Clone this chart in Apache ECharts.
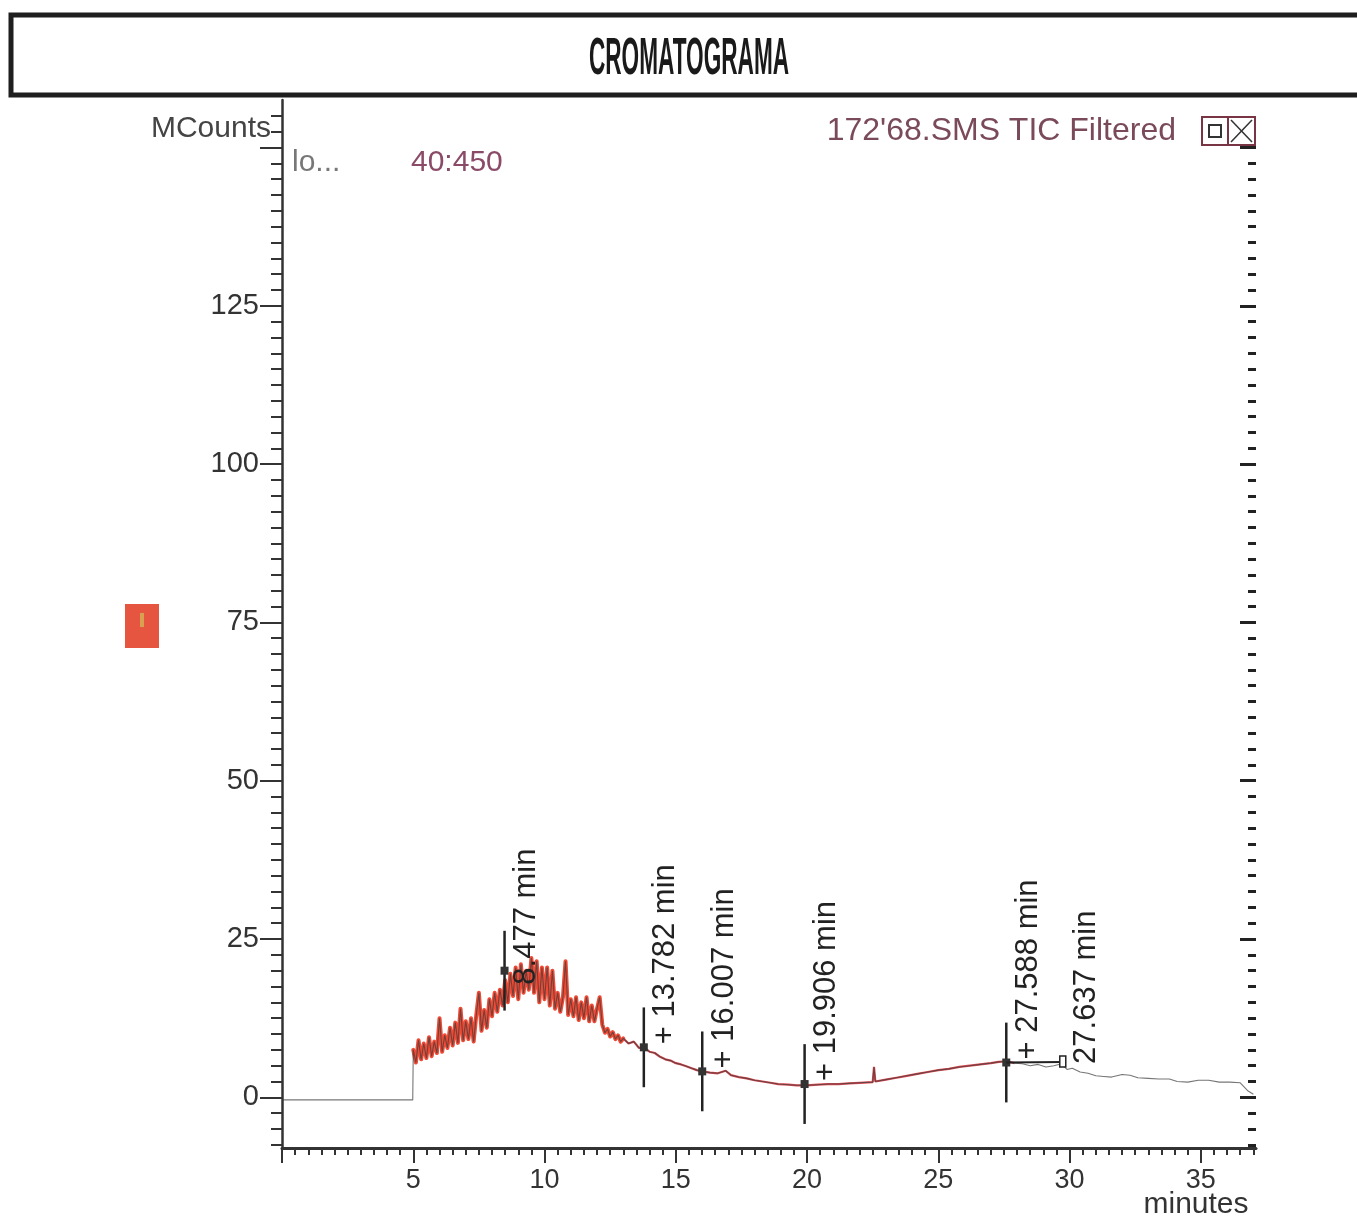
<!DOCTYPE html>
<html>
<head>
<meta charset="utf-8">
<script src="https://cdn.jsdelivr.net/npm/echarts@6/dist/echarts.min.js"></script>
<style>
html,body{margin:0;padding:0;background:#fff;}
#chart{width:1357px;height:1218px;}
</style>
</head>
<body>
<div id="chart"></div>
<script>
// ---------- DATA ----------
const traceTime = [0, 4.98,
  5.0, 5.1, 5.2, 5.3, 5.4, 5.5, 5.6, 5.7, 5.8, 5.9,
  6.0, 6.1, 6.2, 6.3, 6.4, 6.5, 6.6, 6.7, 6.8, 6.9,
  7.0, 7.1, 7.2, 7.3, 7.4, 7.5, 7.6, 7.7, 7.8, 7.9,
  8.0, 8.1, 8.2, 8.3, 8.4, 8.5, 8.6, 8.7, 8.8, 8.9,
  9.0, 9.1, 9.2, 9.3, 9.4, 9.5, 9.6, 9.7, 9.8, 9.9,
  10.0, 10.1, 10.2, 10.3, 10.4, 10.5, 10.6, 10.7, 10.8, 10.9,
  11.0, 11.1, 11.2, 11.3, 11.4, 11.5, 11.6, 11.7, 11.8, 11.9,
  12.0, 12.1, 12.2, 12.3, 12.4, 12.5, 12.6, 12.7, 12.8, 12.9,
  13.0, 13.2, 13.4, 13.6, 13.8, 14.0, 14.2, 14.4, 14.6, 14.8,
  15.0, 15.2, 15.4, 15.6, 15.8, 16.0, 16.3, 16.6, 16.9, 17.1,
  17.4, 17.7, 18.0, 18.3, 18.6, 18.9, 19.3, 19.6, 20.0, 20.4,
  20.8, 21.2, 21.6, 22.0, 22.5, 22.55, 22.6, 23.0, 23.4, 23.8,
  24.2, 24.6, 25.0, 25.4, 25.8, 26.2, 26.6, 27.0, 27.3, 27.6,
  27.9, 28.2, 28.5, 28.8, 29.1, 29.4, 29.7, 29.9, 30.1, 30.4,
  30.7, 31.0, 31.3, 31.6, 32.0, 32.3, 32.6, 33.0, 33.4, 33.8,
  34.1, 34.5, 34.9, 35.3, 35.7, 36.1, 36.5, 36.8, 37.0];

const traceCounts = [-0.4, -0.4,
  7.5, 5.5, 9.0, 6.0, 8.5, 6.2, 9.5, 6.5, 8.8, 7.0,
  12.5, 7.2, 9.8, 7.8, 11.0, 8.2, 11.8, 8.6, 14.0, 9.0,
  12.0, 9.2, 12.5, 8.8, 13.0, 16.5, 10.5, 13.8, 11.0, 15.5,
  12.8, 16.5, 13.5, 17.0, 14.5, 18.5, 15.0, 19.5, 16.0, 20.5,
  15.5, 21.0, 16.5, 20.0, 17.0, 22.0, 16.5, 21.5, 15.0, 20.5,
  15.5, 20.5, 14.5, 20.0, 14.0, 16.5, 13.5, 15.8, 21.5, 13.0,
  15.5, 12.8, 15.8, 12.2, 15.0, 12.5, 15.8, 12.0, 14.5, 12.0,
  14.0, 15.8, 11.5, 10.2, 10.8, 9.6, 10.3, 9.2, 9.8, 8.8,
  9.3, 8.5, 8.8, 7.8, 7.9, 7.2, 7.0, 6.4, 6.0, 5.8,
  5.4, 5.2, 4.9, 4.6, 4.3, 4.1, 3.9, 3.8, 4.2, 3.5,
  3.2, 3.0, 2.7, 2.5, 2.3, 2.1, 2.0, 1.9, 1.9, 2.0,
  2.1, 2.1, 2.2, 2.3, 2.4, 4.8, 2.5, 2.8, 3.1, 3.4,
  3.7, 4.0, 4.3, 4.5, 4.8, 5.0, 5.2, 5.4, 5.6, 5.7,
  5.4, 5.3, 5.0, 5.2, 4.8, 5.0, 5.3, 4.4, 4.6, 4.0,
  3.8, 3.4, 3.3, 3.2, 3.6, 3.5, 3.1, 3.0, 2.9, 2.9,
  2.5, 2.4, 2.7, 2.7, 2.4, 2.4, 2.3, 1.0, 0.5];

const peakTimes = [8.477, 13.782, 16.007, 19.906, 27.588];
const peakCounts = [20.0, 7.9, 4.1, 2.1, 5.5];
const peakLabels = ['8.477 min', '+ 13.782 min', '+ 16.007 min', '+ 19.906 min', '+ 27.588 min'];

const endMarkTimes = [29.74];
const endMarkCounts = [5.6];
const endMarkLabels = ['27.637 min'];

const xTickLabels = [5, 10, 15, 20, 25, 30, 35];
const yTickLabels = [0, 25, 50, 75, 100, 125];

const noisyStartTime = 5.0;
const noisyEndTime = 13.0;
const redEndTime = 28.0;

// ---------- AXIS RANGE / TICKS ----------
const xMin = 0, xMax = 37.1;
const yMin = -8, yMax = 157.5;
const xMajorTicks = [0, 5, 10, 15, 20, 25, 30, 35];
const xMinorTicks = [];
for (let k = 1; k <= 74; k++) { const v = k * 0.5; if (v % 5 !== 0) xMinorTicks.push(v); }
const yMajorTicks = [0, 25, 50, 75, 100, 125, 150];
const yMinorTicks = [];
for (let k = -3; k <= 62; k++) { const v = k * 2.5; if (v % 25 !== 0) yMinorTicks.push(v); }
const yRightMinor = yMinorTicks.filter(v => v <= 150);

const FONT = 'Liberation Sans, Arial, Helvetica, sans-serif';

const traceData = traceTime.map((t, i) => [t, traceCounts[i]]);
const noisyData = traceData.filter(d => d[0] >= noisyStartTime && d[0] <= noisyEndTime);
const redData = traceData.filter(d => d[0] >= noisyEndTime && d[0] <= redEndTime);
const peakData = peakTimes.map((t, i) => [t, peakCounts[i]]);
const endData = endMarkTimes.map((t, i) => [t, endMarkCounts[i]]);

const BAR_HALF = 6.3;

function renderPeak(params, api) {
  const t = api.value(0), v = api.value(1);
  const label = peakLabels[params.dataIndex];
  const p = api.coord([t, v]);
  const top = api.coord([t, v + BAR_HALF]);
  const bot = api.coord([t, v - BAR_HALF]);
  const shift = label.charAt(0) === '+' ? -3 : 14;
  return {
    type: 'group',
    children: [
      { type: 'line', shape: { x1: p[0], y1: top[1], x2: p[0], y2: bot[1] }, style: { stroke: '#222', lineWidth: 2.5 } },
      { type: 'rect', shape: { x: p[0] - 4, y: p[1] - 4, width: 8, height: 8 }, style: { fill: '#333' } },
      { type: 'text', x: p[0] + 22, y: p[1] + shift, rotation: Math.PI / 2,
        style: { text: label, fontSize: 31, fontFamily: FONT, fill: '#222', align: 'left', verticalAlign: 'middle' } }
    ]
  };
}

function renderEnd(params, api) {
  const t = api.value(0), v = api.value(1);
  const p = api.coord([t, v]);
  const from = api.coord([peakTimes[peakTimes.length - 1], peakCounts[peakCounts.length - 1]]);
  return {
    type: 'group',
    children: [
      { type: 'line', shape: { x1: from[0], y1: from[1], x2: p[0], y2: p[1] }, style: { stroke: '#222', lineWidth: 2 } },
      { type: 'rect', shape: { x: p[0] - 3, y: p[1] - 6, width: 6, height: 11 }, style: { fill: '#fff', stroke: '#222', lineWidth: 1.5 } },
      { type: 'text', x: p[0] + 24, y: p[1] + 2, rotation: Math.PI / 2,
        style: { text: endMarkLabels[params.dataIndex], fontSize: 31, fontFamily: FONT, fill: '#222', align: 'left', verticalAlign: 'middle' } }
    ]
  };
}

const chart = echarts.init(document.getElementById('chart'), null, { renderer: 'canvas' });

const option = {
  animation: false,
  backgroundColor: '#ffffff',
  grid: { left: 282, right: 101, top: 100, bottom: 70, containLabel: false, outerBoundsMode: 'none' },
  xAxis: [
    {
      type: 'value', min: xMin, max: xMax, position: 'bottom',
      axisLine: { onZero: false, lineStyle: { color: '#333', width: 3 } },
      axisTick: { customValues: xMajorTicks, length: 15, lineStyle: { color: '#333', width: 2 } },
      axisLabel: { customValues: xTickLabels, fontSize: 27, color: '#333', margin: 19, fontFamily: FONT },
      splitLine: { show: false }
    },
    {
      type: 'value', min: xMin, max: xMax, position: 'bottom',
      axisLine: { show: false, onZero: false },
      axisTick: { customValues: xMinorTicks, length: 7, lineStyle: { color: '#333', width: 2 } },
      axisLabel: { show: false },
      splitLine: { show: false }
    }
  ],
  yAxis: [
    {
      type: 'value', min: yMin, max: yMax, position: 'left',
      axisLine: { onZero: false, lineStyle: { color: '#333', width: 2.5 } },
      axisTick: { customValues: yMajorTicks, length: 22, lineStyle: { color: '#333', width: 2 } },
      axisLabel: { customValues: yTickLabels, fontSize: 29, color: '#333', margin: 23, fontFamily: FONT },
      splitLine: { show: false }
    },
    {
      type: 'value', min: yMin, max: yMax, position: 'left',
      axisLine: { show: false, onZero: false },
      axisTick: { customValues: yMinorTicks, length: 11, lineStyle: { color: '#333', width: 2 } },
      axisLabel: { show: false },
      splitLine: { show: false }
    },
    {
      type: 'value', min: yMin, max: yMax, position: 'right',
      axisLine: { show: false, onZero: false },
      axisTick: { inside: true, customValues: yRightMinor, length: 8, lineStyle: { color: '#222', width: 3 } },
      axisLabel: { show: false },
      splitLine: { show: false }
    },
    {
      type: 'value', min: yMin, max: yMax, position: 'right',
      axisLine: { show: false, onZero: false },
      axisTick: { inside: true, customValues: yMajorTicks, length: 16, lineStyle: { color: '#222', width: 3 } },
      axisLabel: { show: false },
      splitLine: { show: false }
    }
  ],
  series: [
    {
      name: 'TIC noisy', type: 'line', data: noisyData, xAxisIndex: 0, yAxisIndex: 0,
      showSymbol: false, symbol: 'none', z: 2,
      lineStyle: { color: '#ee4a35', width: 4, join: 'round', cap: 'round' }
    },
    {
      name: 'TIC red', type: 'line', data: redData, xAxisIndex: 0, yAxisIndex: 0,
      showSymbol: false, symbol: 'none', z: 2,
      lineStyle: { color: '#dc4a50', width: 2.2 }
    },
    {
      name: 'TIC', type: 'line', data: traceData, xAxisIndex: 0, yAxisIndex: 0,
      showSymbol: false, symbol: 'none', z: 3,
      lineStyle: { color: '#3c3c3c', width: 1.1, opacity: 0.7 }
    },
    {
      name: 'peaks', type: 'custom', data: peakData, xAxisIndex: 0, yAxisIndex: 0,
      renderItem: renderPeak, z: 5, clip: false
    },
    {
      name: 'end', type: 'custom', data: endData, xAxisIndex: 0, yAxisIndex: 0,
      renderItem: renderEnd, z: 5, clip: false
    }
  ],
  graphic: [
    { type: 'rect', shape: { x: 11, y: 15, width: 1360, height: 80 }, style: { fill: '#ffffff', stroke: '#1e1e1e', lineWidth: 5 }, z: 10 },
    { type: 'text', x: 689, y: 60, scaleX: 0.435, scaleY: 1,
      style: { text: 'CROMATOGRAMA', fontSize: 52, fontWeight: 'bold', fontFamily: FONT, fill: '#1a1a1a', align: 'center', verticalAlign: 'middle' }, z: 11 },
    { type: 'text', x: 271, y: 129,
      style: { text: 'MCounts', fontSize: 30, fontFamily: FONT, fill: '#444', align: 'right', verticalAlign: 'middle' }, z: 11 },
    { type: 'text', x: 292, y: 163,
      style: { text: 'lo...', fontSize: 30, fontFamily: FONT, fill: '#777', align: 'left', verticalAlign: 'middle' }, z: 11 },
    { type: 'text', x: 411, y: 163,
      style: { text: '40:450', fontSize: 30, fontFamily: FONT, fill: '#8a4a68', align: 'left', verticalAlign: 'middle' }, z: 11 },
    { type: 'text', x: 1176, y: 131,
      style: { text: '172\'68.SMS TIC Filtered', fontSize: 32, fontFamily: FONT, fill: '#7a4a5a', align: 'right', verticalAlign: 'middle' }, z: 11 },
    { type: 'rect', shape: { x: 1202, y: 117, width: 26, height: 28 }, style: { fill: '#fff', stroke: '#7a3545', lineWidth: 2 }, z: 11 },
    { type: 'rect', shape: { x: 1209, y: 125, width: 12, height: 12 }, style: { fill: 'none', stroke: '#333', lineWidth: 2 }, z: 12 },
    { type: 'rect', shape: { x: 1228, y: 117, width: 27, height: 28 }, style: { fill: '#fff', stroke: '#7a3545', lineWidth: 2 }, z: 11 },
    { type: 'line', shape: { x1: 1231, y1: 120, x2: 1252, y2: 142 }, style: { stroke: '#333', lineWidth: 1.5 }, z: 12 },
    { type: 'line', shape: { x1: 1252, y1: 120, x2: 1231, y2: 142 }, style: { stroke: '#333', lineWidth: 1.5 }, z: 12 },
    { type: 'rect', shape: { x: 125, y: 604, width: 34, height: 44 }, style: { fill: '#e6553f' }, z: 11 },
    { type: 'rect', shape: { x: 140, y: 613, width: 4, height: 14 }, style: { fill: '#d8a050' }, z: 12 },
    { type: 'text', x: 1196, y: 1205,
      style: { text: 'minutes', fontSize: 30, fontFamily: FONT, fill: '#333', align: 'center', verticalAlign: 'middle' }, z: 11 }
  ]
};

chart.setOption(option);
</script>
</body>
</html>
